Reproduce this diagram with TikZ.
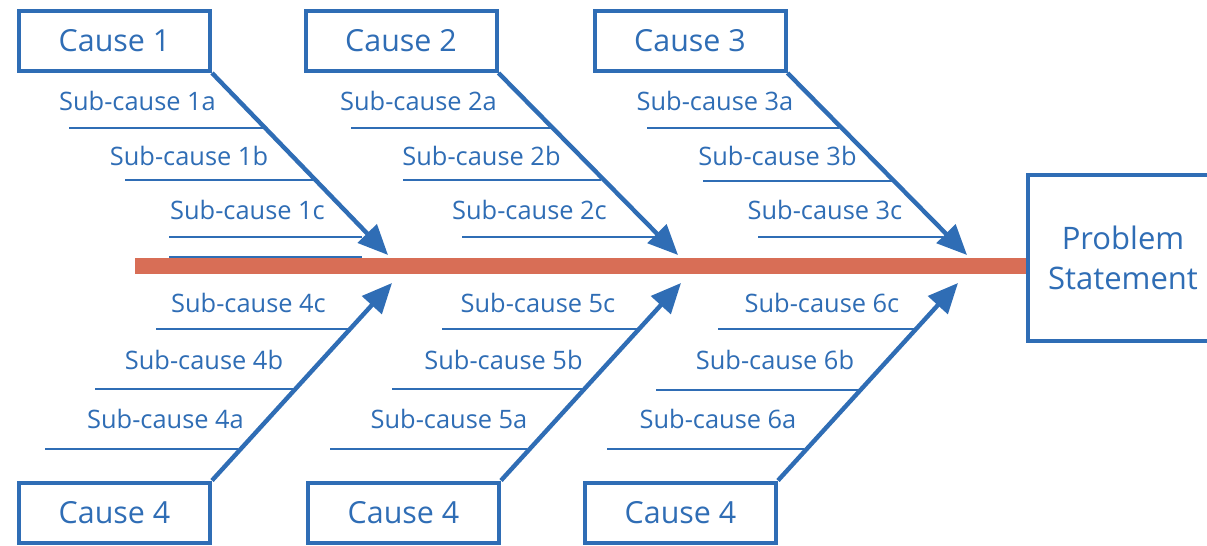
\documentclass[tikz,border=0pt]{standalone}
\usepackage{fontspec}
\setmainfont{Open Sans}
\usetikzlibrary{arrows.meta}
\definecolor{fbblue}{RGB}{47,109,181}
\definecolor{fborange}{RGB}{216,110,86}
\begin{document}
\begin{tikzpicture}[x=0.5pt,y=-0.5pt,
  causebox/.style={draw=fbblue, line width=2pt, minimum width=95.5pt,
    minimum height=30pt, inner sep=0pt, text=fbblue,
    font=\fontsize{15.2}{18}\selectfont},
  probbox/.style={draw=fbblue, line width=2pt, minimum width=95.5pt,
    minimum height=83pt, inner sep=0pt, text=fbblue, align=center,
    font=\fontsize{15.5}{20}\selectfont},
  sublabel/.style={text=fbblue, font=\fontsize{12.7}{15}\selectfont,
    anchor=base, inner sep=0pt},
  subline/.style={draw=fbblue, line width=0.8pt},
  bone/.style={draw=fbblue, line width=2.2pt,
    -{Triangle[length=15pt,width=13pt]}},
  spine/.style={draw=fborange, line width=8pt}]

\clip (0,0) rectangle (1207,546);
\fill[white] (0,0) rectangle (1207,546);

% effect box and the spine leading to it
\node[probbox] (ps) at (1123,258) {Problem\\Statement};
\coordinate (spL) at (135,266);
\draw[spine] (spL) -- (spL -| ps.west);
\draw[subline] (169,257) -- (362,257);

% cause boxes
\node[causebox] (c1) at (114.5,41) {Cause 1};
\node[causebox] (c2) at (401,41) {Cause 2};
\node[causebox] (c3) at (690,41) {Cause 3};
\node[causebox] (c4) at (114.5,512.5) {Cause 4};
\node[causebox] (c5) at (403.5,512.5) {Cause 4};
\node[causebox] (c6) at (680.5,512.5) {Cause 4};

% arrow tips on the spine
\coordinate (t1) at (388,255);
\coordinate (t2) at (678,255);
\coordinate (t3) at (967,255);
\coordinate (t4) at (392,283);
\coordinate (t5) at (681,283);
\coordinate (t6) at (958,283);

\draw[bone] (c1.south east) -- (t1);
\draw[bone] (c2.south east) -- (t2);
\draw[bone] (c3.south east) -- (t3);
\draw[bone] (c4.north east) -- (t4);
\draw[bone] (c5.north east) -- (t5);
\draw[bone] (c6.north east) -- (t6);

% sub-causes, upper side
\node[sublabel] (s1a) at (137.5,110) {Sub-cause 1a};
\node[sublabel] (s1b) at (189,165) {Sub-cause 1b};
\node[sublabel] (s1c) at (247.5,219) {Sub-cause 1c};
\draw[subline] (69,128) -- (263,128);
\draw[subline] (125,180) -- (314,180);
\draw[subline] (169,237) -- (362,237);

\node[sublabel] (s2a) at (418.5,110) {Sub-cause 2a};
\node[sublabel] (s2b) at (481.5,165) {Sub-cause 2b};
\node[sublabel] (s2c) at (529.5,219) {Sub-cause 2c};
\draw[subline] (351,128) -- (551,128);
\draw[subline] (403,180) -- (601,180);
\draw[subline] (462,237) -- (655,237);

\node[sublabel] (s3a) at (715,110) {Sub-cause 3a};
\node[sublabel] (s3b) at (777.5,165) {Sub-cause 3b};
\node[sublabel] (s3c) at (825,219) {Sub-cause 3c};
\draw[subline] (647,128) -- (839,128);
\draw[subline] (703,181) -- (892,181);
\draw[subline] (758,237) -- (943,237);

% sub-causes, lower side
\node[sublabel] (s4c) at (248.5,312) {Sub-cause 4c};
\node[sublabel] (s4b) at (204,369) {Sub-cause 4b};
\node[sublabel] (s4a) at (165.5,428) {Sub-cause 4a};
\draw[subline] (156,329) -- (348,329);
\draw[subline] (95,389) -- (293,389);
\draw[subline] (45,449) -- (238,449);

\node[sublabel] (s5c) at (538,312) {Sub-cause 5c};
\node[sublabel] (s5b) at (503.5,369) {Sub-cause 5b};
\node[sublabel] (s5a) at (449,428) {Sub-cause 5a};
\draw[subline] (442,329) -- (637,329);
\draw[subline] (392,389) -- (582,389);
\draw[subline] (330,449) -- (527,449);

\node[sublabel] (s6c) at (822,312) {Sub-cause 6c};
\node[sublabel] (s6b) at (775,369) {Sub-cause 6b};
\node[sublabel] (s6a) at (718,428) {Sub-cause 6a};
\draw[subline] (718,329) -- (914,329);
\draw[subline] (656,390) -- (858,390);
\draw[subline] (607,449) -- (804,449);
\end{tikzpicture}
\end{document}
